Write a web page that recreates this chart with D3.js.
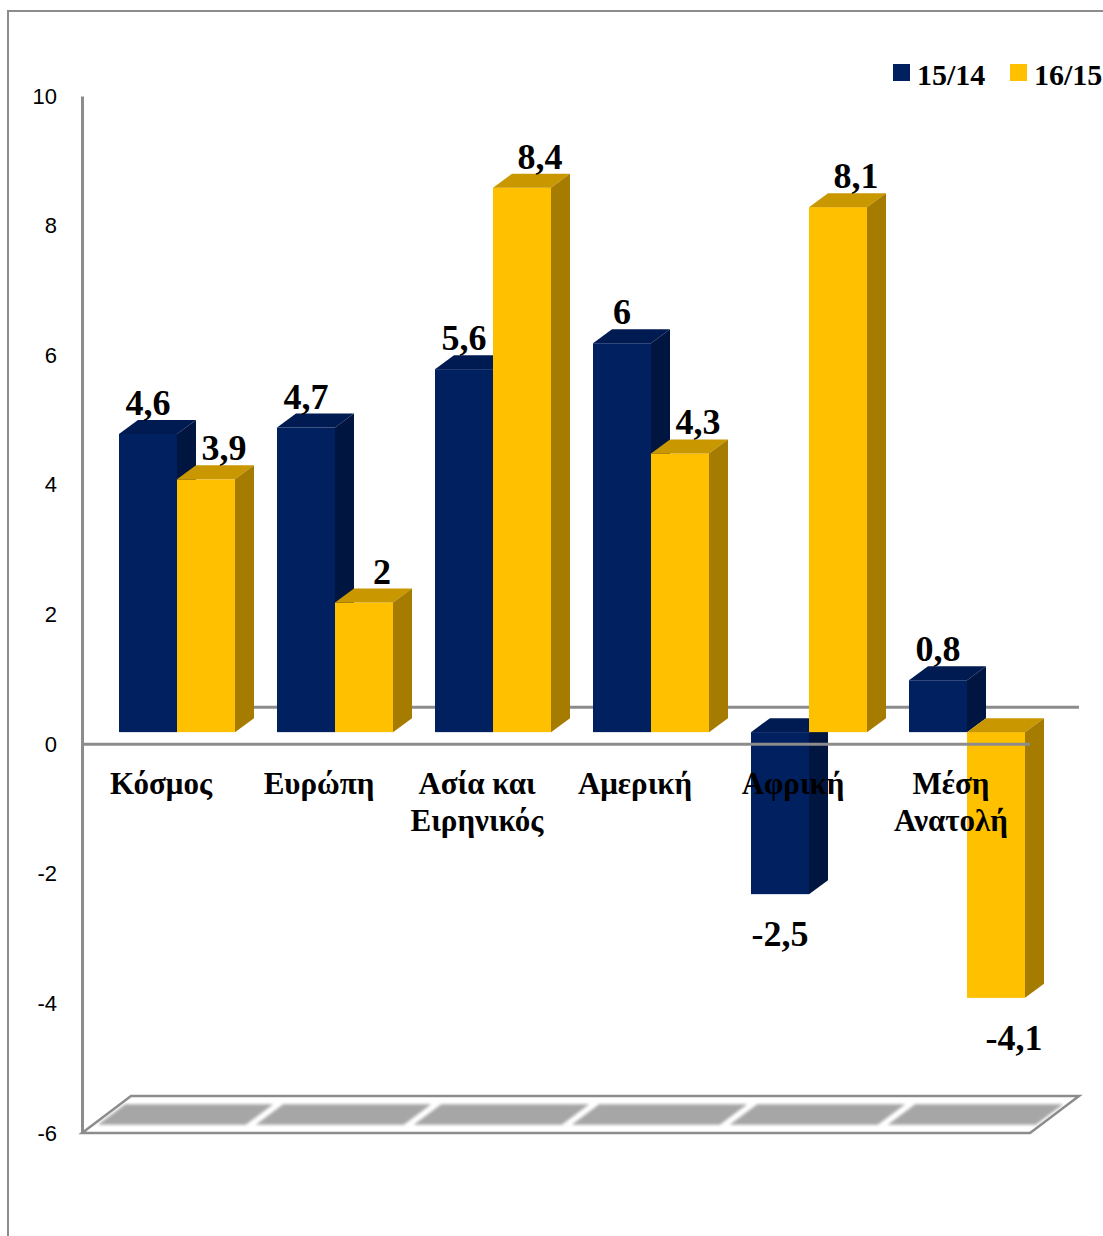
<!DOCTYPE html>
<html>
<head>
<meta charset="utf-8">
<script src="https://cdnjs.cloudflare.com/ajax/libs/d3/7.8.5/d3.min.js"></script>
<style>
  body { margin: 0; background: #fff; }
  svg { display: block; }
</style>
</head>
<body>
<svg width="1103" height="1236"></svg>
<script>
// data
var categories = [["Κόσμος"], ["Ευρώπη"], ["Ασία και", "Ειρηνικός"], ["Αμερική"], ["Αφρική"], ["Μέση", "Ανατολή"]];
var series1514 = [4.6, 4.7, 5.6, 6, -2.5, 0.8];
var series1615 = [3.9, 2, 8.4, 4.3, 8.1, -4.1];
var seriesNames = ["15/14", "16/15"];
var yTicks = [-6, -4, -2, 0, 2, 4, 6, 8, 10];

var svg = d3.select("svg"),
    plotLeft = 82, plotRight = 1030, plotTop = 96, plotBottom = 1133;

var wall = {dx: 49, dy: -37},     // depth of the whole plot
    plane = {dx: 16, dy: -12},    // where bar fronts sit
    depth = {dx: 19, dy: -14};    // bar thickness

var x = d3.scaleBand().domain(d3.range(categories.length)).range([plotLeft, plotRight]);
var y = d3.scaleLinear().domain([-6, 10]).range([plotBottom, plotTop]);

var colors = [
  {front: "#002060", top: "#001b52", side: "#001640"},
  {front: "#ffc000", top: "#c99700", side: "#a67c00"}
];
var barW = 58;

// frame
svg.append("path").attr("d", "M8,1236V11H1103")
    .attr("fill", "none").attr("stroke", "#8c8c8c").attr("stroke-width", 2);

// back zero line
svg.append("line")
    .attr("x1", plotLeft + wall.dx).attr("x2", plotRight + wall.dx)
    .attr("y1", y(0) + wall.dy).attr("y2", y(0) + wall.dy)
    .attr("stroke", "#8c8c8c").attr("stroke-width", 3);

// floor
var defs = svg.append("defs");
defs.append("filter").attr("id", "soft").append("feGaussianBlur").attr("stdDeviation", 1.6);

var fy = y(-6);
svg.append("path")
    .attr("d", "M" + plotLeft + "," + fy + "L" + plotRight + "," + fy +
      "L" + (plotRight + wall.dx) + "," + (fy + wall.dy) + "L" + (plotLeft + wall.dx) + "," + (fy + wall.dy) + "Z")
    .attr("fill", "#fff").attr("stroke", "#8c8c8c").attr("stroke-width", 2.5);

svg.append("g").attr("filter", "url(#soft)")
  .selectAll("path").data(d3.range(categories.length)).enter().append("path")
    .attr("d", function(i) {
      var a = x(i) + 5, b = x(i) + x.bandwidth() - 5, t0 = 0.22, t1 = 0.78;
      return "M" + (a + t0 * wall.dx) + "," + (fy + t0 * wall.dy) +
        "L" + (b + t0 * wall.dx) + "," + (fy + t0 * wall.dy) +
        "L" + (b + t1 * wall.dx) + "," + (fy + t1 * wall.dy) +
        "L" + (a + t1 * wall.dx) + "," + (fy + t1 * wall.dy) + "Z";
    })
    .attr("fill", "#a6a6a6");

// y axis
var yAxis = d3.axisLeft(y).tickValues(yTicks).tickSize(0).tickPadding(25)
    .tickFormat(function(d) { return String(d); });
var ga = svg.append("g").attr("transform", "translate(" + plotLeft + ",0)").call(yAxis);
ga.attr("font-family", null).attr("font-size", null);
ga.select(".domain").attr("stroke", "#8c8c8c").attr("stroke-width", 3);
ga.selectAll("text").style("font-family", "'Liberation Sans', Arial, sans-serif")
    .style("font-size", "22px").attr("fill", "#000");

// bars
function bar(g, v, x0, c) {
  var yb0 = y(0) + plane.dy, yb = y(v) + plane.dy,
      yt = Math.min(yb0, yb), ybt = Math.max(yb0, yb), x1 = x0 + barW;
  g.append("rect").attr("x", x0).attr("y", yt).attr("width", barW).attr("height", ybt - yt)
      .attr("fill", c.front);
  g.append("path").attr("fill", c.top)
      .attr("d", "M" + x0 + "," + yt + "L" + x1 + "," + yt + "L" + (x1 + depth.dx) + "," + (yt + depth.dy) +
        "L" + (x0 + depth.dx) + "," + (yt + depth.dy) + "Z");
  g.append("path").attr("fill", c.side)
      .attr("d", "M" + x1 + "," + yt + "L" + (x1 + depth.dx) + "," + (yt + depth.dy) +
        "L" + (x1 + depth.dx) + "," + (ybt + depth.dy) + "L" + x1 + "," + ybt + "Z");
}

var bars = svg.append("g");
categories.forEach(function(cat, i) {
  var cx = x(i) + x.bandwidth() / 2 + plane.dx;
  bar(bars, series1514[i], cx - barW, colors[0]);
  bar(bars, series1615[i], cx, colors[1]);
});

// front zero line
svg.append("line")
    .attr("x1", plotLeft).attr("x2", plotRight)
    .attr("y1", y(0)).attr("y2", y(0))
    .attr("stroke", "#8c8c8c").attr("stroke-width", 3);

// category labels
svg.append("g").selectAll("text").data(categories).enter().append("text")
    .attr("x", function(d, i) { return x(i) + x.bandwidth() / 2; })
    .attr("y", 794)
    .attr("text-anchor", "middle")
    .attr("font-family", "'Liberation Serif', 'Times New Roman', serif")
    .attr("font-weight", "bold").attr("font-size", 31).attr("fill", "#000")
    .each(function(d) {
      var t = d3.select(this);
      d.forEach(function(line, k) {
        t.append("tspan").attr("x", t.attr("x")).attr("dy", k ? 37 : 0).text(line);
      });
    });

// data labels
var fmt = function(v) { return String(v).replace(".", ","); };
[series1514, series1615].forEach(function(s, si) {
  svg.append("g").selectAll("text").data(s).enter().append("text")
      .attr("x", function(v, i) {
        var cx = x(i) + x.bandwidth() / 2 + plane.dx;
        return si === 0 ? cx - barW / 2 : cx + barW / 2 + 18;
      })
      .attr("y", function(v) {
        var yb = y(v) + plane.dy;
        return v >= 0 ? yb - 19 : yb + 52;
      })
      .attr("text-anchor", "middle")
      .attr("font-family", "'Liberation Serif', 'Times New Roman', serif")
      .attr("font-weight", "bold").attr("font-size", 36).attr("fill", "#000")
      .text(fmt);
});

// legend
var lg = svg.append("g");
seriesNames.forEach(function(name, i) {
  var lx = 893 + i * 117;
  lg.append("rect").attr("x", lx).attr("y", 64).attr("width", 17).attr("height", 17)
      .attr("fill", colors[i].front);
  lg.append("text").attr("x", lx + 24).attr("y", 85)
      .attr("font-family", "'Liberation Serif', 'Times New Roman', serif")
      .attr("font-weight", "bold").attr("font-size", 30).attr("fill", "#000")
      .text(name);
});
</script>
</body>
</html>
